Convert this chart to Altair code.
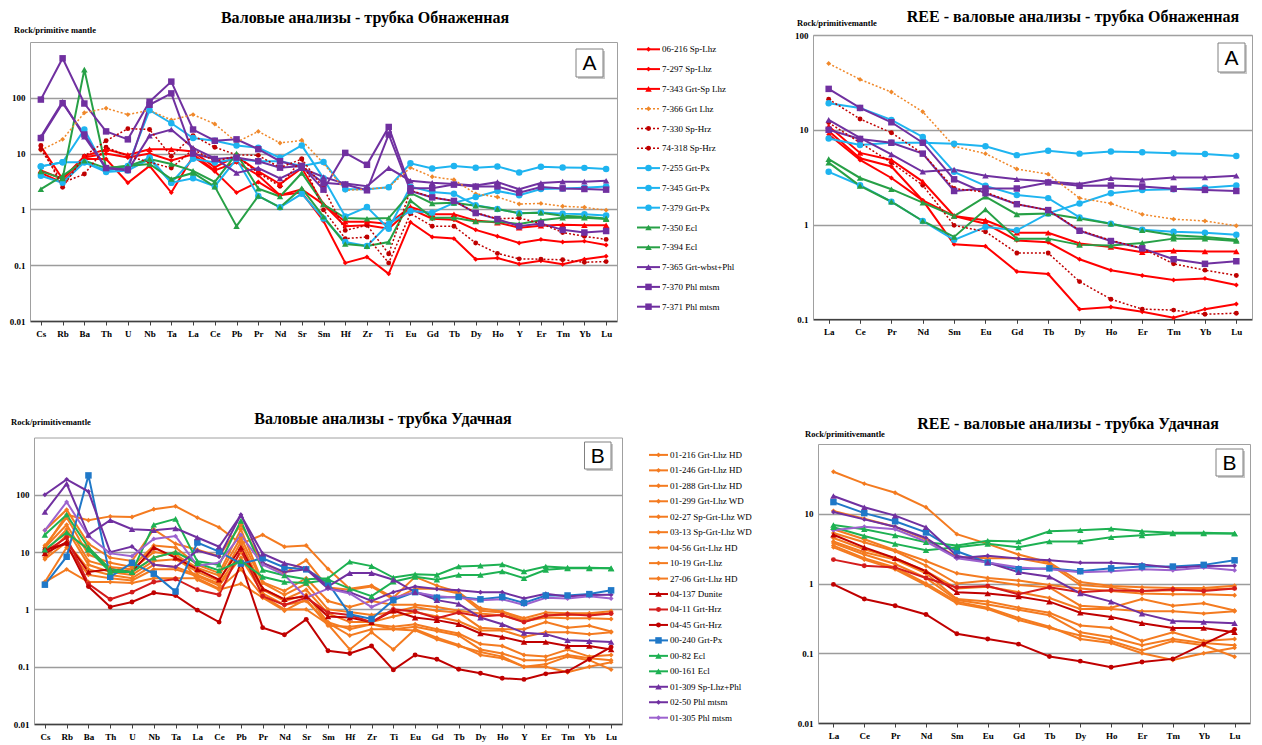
import altair as alt
import pandas as pd

# ---------------- data ----------------
ELEMENTS = ["Cs", "Rb", "Ba", "Th", "U", "Nb", "Ta", "La", "Ce", "Pb", "Pr", "Nd", "Sr", "Sm",
            "Hf", "Zr", "Ti", "Eu", "Gd", "Tb", "Dy", "Ho", "Y", "Er", "Tm", "Yb", "Lu"]
REE = ["La", "Ce", "Pr", "Nd", "Sm", "Eu", "Gd", "Tb", "Dy", "Ho", "Er", "Tm", "Yb", "Lu"]

SERIES_A = ["06-216 Sp-Lhz", "7-297 Sp-Lhz", "7-343 Grt-Sp  Lhz", "7-366 Grt Lhz", "7-330 Sp-Hrz",
            "74-318 Sp-Hrz", "7-255 Grt-Px", "7-345 Grt-Px", "7-379 Grt-Px", "7-350 Ecl", "7-394 Ecl",
            "7-365 Grt-wbst+Phl", "7-370 Phl mtsm", "7-371 Phl mtsm"]

A_06_216 = [4.5, 3.0, 8.0, 8.0, 3.0, 6.0, 2.0, 8.9, 4.8, 2.0, 3.1, 1.8, 2.0, 0.62, 0.11, 0.14, 0.07, 0.59, 0.32, 0.30, 0.128, 0.135, 0.105, 0.12, 0.104, 0.128, 0.145]
A_7_297 = [13.5, 3.5, 8.5, 10.0, 8.5, 10.0, 7.5, 9.7, 5.0, 7.0, 4.1, 1.8, 2.3, 1.23, 0.5, 0.52, 0.45, 1.02, 0.68, 0.65, 0.43, 0.33, 0.25, 0.29, 0.26, 0.27, 0.23]
A_7_343 = [5.0, 3.5, 9.0, 12.0, 9.5, 12.0, 12.0, 10.9, 5.7, 9.0, 4.8, 2.84, 5.5, 1.23, 0.6, 0.6, 0.55, 1.11, 0.82, 0.82, 0.63, 0.58, 0.47, 0.51, 0.53, 0.52, 0.52]
A_7_366 = [11.5, 18.0, 54.0, 65.0, 50.0, 60.0, 40.0, 50.0, 34.0, 16.0, 25.0, 15.5, 17.3, 6.7, 2.2, 2.3, 2.5, 5.6, 3.85, 3.4, 1.9, 1.67, 1.25, 1.28, 1.14, 1.09, 0.97]
A_7_330 = [14.0, 2.5, 9.0, 17.0, 28.0, 27.0, 9.0, 21.0, 13.0, 9.5, 9.3, 5.6, 8.0, 2.4, 0.42, 0.52, 0.16, 2.2, 1.64, 1.42, 0.87, 0.68, 0.7, 0.56, 0.385, 0.33, 0.29]
A_74_318 = [12.0, 3.0, 4.3, 13.0, 9.0, 7.0, 5.5, 11.9, 7.3, 9.0, 4.5, 2.6, 8.0, 0.98, 0.3, 0.32, 0.11, 0.84, 0.5, 0.5, 0.25, 0.163, 0.13, 0.128, 0.125, 0.113, 0.116]
A_7_255 = [5.9, 7.0, 27.0, 5.0, 6.0, 60.0, 35.0, 19.0, 17.0, 14.0, 12.7, 8.4, 14.0, 3.6, 0.75, 1.1, 0.45, 2.56, 2.05, 1.9, 1.19, 1.02, 0.85, 0.88, 0.84, 0.82, 0.78]
A_7_345 = [5.9, 7.0, 7.0, 5.0, 5.5, 8.5, 3.0, 8.1, 6.9, 8.0, 7.3, 7.3, 6.0, 7.1, 2.3, 2.3, 2.5, 6.7, 5.4, 6.0, 5.6, 5.9, 4.6, 5.8, 5.65, 5.55, 5.3]
A_7_379 = [4.0, 3.0, 7.0, 4.7, 5.0, 8.0, 3.0, 3.6, 2.6, 8.0, 1.74, 1.09, 1.9, 0.69, 0.26, 0.22, 0.55, 0.94, 0.87, 1.31, 1.67, 2.14, 1.8, 2.32, 2.36, 2.45, 2.58]
A_7_350 = [4.8, 3.6, 320.0, 5.5, 6.0, 8.0, 6.5, 4.9, 3.1, 10.0, 2.36, 1.7, 4.5, 1.23, 0.7, 0.68, 0.7, 1.97, 1.28, 1.31, 1.16, 1.02, 0.85, 0.87, 0.77, 0.74, 0.69]
A_7_394 = [2.3, 4.0, 7.5, 5.5, 6.0, 6.5, 3.5, 4.5, 2.56, 0.5, 1.74, 1.09, 2.4, 0.74, 0.24, 0.22, 0.26, 1.44, 0.71, 0.71, 0.61, 0.6, 0.55, 0.64, 0.71, 0.71, 0.67]
A_7_365 = [20.0, 85.0, 20.0, 5.5, 5.0, 21.0, 27.0, 12.7, 8.2, 4.5, 5.5, 3.6, 5.5, 3.8, 2.9, 2.6, 5.5, 3.27, 3.0, 2.85, 2.68, 3.08, 2.3, 2.96, 3.14, 3.14, 3.27]
A_7_370 = [19.0, 80.0, 22.0, 5.5, 5.2, 75.0, 120.0, 10.0, 8.0, 8.5, 7.3, 5.6, 6.0, 2.26, 10.3, 6.3, 30.0, 2.4, 2.4, 2.78, 2.56, 2.58, 2.0, 2.52, 2.38, 2.32, 2.26]
A_7_371 = [93.0, 510.0, 79.0, 25.0, 18.0, 85.0, 195.0, 27.0, 17.0, 18.0, 12.0, 7.3, 5.7, 3.0, 2.8, 2.2, 22.0, 2.14, 1.64, 1.42, 0.86, 0.67, 0.5, 0.56, 0.43, 0.385, 0.41]

VALUES_A = [A_06_216, A_7_297, A_7_343, A_7_366, A_7_330, A_74_318, A_7_255, A_7_345, A_7_379,
            A_7_350, A_7_394, A_7_365, A_7_370, A_7_371]

SERIES_B = ["01-216 Grt-Lhz  HD", "01-246 Grt-Lhz  HD", "01-288 Grt-Lhz  HD", "01-299 Grt-Lhz  WD",
            "02-27 Sp-Grt-Lhz  WD", "03-13 Sp-Grt-Lhz  WD", "04-56 Grt-Lhz  HD", "10-19 Grt-Lhz",
            "27-06 Grt-Lhz  HD", "04-137 Dunite", "04-11 Grt-Hrz", "04-45 Grt-Hrz", "00-240 Grt-Px",
            "00-82 Ecl", "00-161 Ecl", "01-309 Sp-Lhz+Phl", "02-50 Phl mtsm", "01-305 Phl mtsm"]

B_01_216 = [12, 45, 36, 42, 41, 56, 63, 40, 27, 14, 20, 12.4, 13, 5.1, 2.3, 2.6, 1.6, 3.7, 2.6, 2.0, 1.05, 0.92, 0.7, 0.88, 0.86, 0.86, 0.93]
B_01_246 = [24, 55, 14, 8, 7, 25, 14, 11, 8.5, 30, 6.5, 4.3, 7.2, 2.4, 2.2, 2.5, 1.5, 2.3, 2.3, 1.9, 0.95, 0.88, 0.65, 0.78, 0.8, 0.82, 0.85]
B_01_288 = [13, 40, 9, 6.5, 5.5, 13, 12, 6.0, 4.3, 25, 3.0, 2.1, 3.5, 1.4, 1.1, 1.4, 1.2, 1.2, 1.1, 0.95, 0.85, 0.78, 0.62, 0.72, 0.7, 0.7, 0.68]
B_01_299 = [12, 30, 7, 5.5, 5, 10, 9, 5.3, 3.9, 18, 2.9, 1.8, 2.8, 1.0, 0.9, 0.8, 0.9, 1.1, 0.95, 0.88, 0.48, 0.45, 0.45, 0.6, 0.48, 0.52, 0.41]
B_02_27 = [10, 25, 6, 4.5, 4, 7, 7.5, 4.5, 3.1, 15, 2.3, 1.5, 2.2, 0.85, 0.6, 0.6, 0.75, 0.9, 0.75, 0.62, 0.43, 0.43, 0.33, 0.4, 0.4, 0.37, 0.4]
B_03_13 = [7.5, 15, 5, 4, 3.5, 6, 5.5, 4.0, 2.8, 10, 2.2, 1.4, 1.8, 0.6, 0.45, 0.55, 0.5, 0.55, 0.45, 0.38, 0.25, 0.23, 0.16, 0.15, 0.2, 0.15, 0.16]
B_04_56 = [3, 12, 4, 3.5, 3.2, 5, 5, 3.8, 2.6, 8, 1.9, 1.2, 1.4, 0.58, 0.35, 0.45, 0.45, 0.5, 0.42, 0.35, 0.2, 0.17, 0.13, 0.13, 0.16, 0.14, 0.13]
B_10_19 = [3, 5, 3, 3, 2.9, 3.5, 3.5, 3.5, 2.3, 5, 1.7, 1.0, 1.0, 0.55, 0.2, 0.4, 0.2, 0.45, 0.32, 0.24, 0.16, 0.14, 0.1, 0.1, 0.08, 0.1, 0.12]
B_27_06 = [8, 20, 12, 5, 4.5, 8, 10, 3.3, 2.2, 2.8, 1.6, 0.95, 1.5, 0.52, 0.5, 0.55, 0.45, 0.43, 0.3, 0.23, 0.18, 0.15, 0.1, 0.11, 0.15, 0.13, 0.089]
B_04_137 = [9.5, 15, 4.5, 5, 4.5, 12, 8, 5, 3.3, 12, 2.3, 1.5, 1.7, 0.75, 0.72, 0.6, 0.95, 0.72, 0.65, 0.55, 0.38, 0.33, 0.27, 0.27, 0.23, 0.23, 0.2]
B_04_11 = [10, 18, 2.8, 1.5, 2.0, 3.0, 3.4, 2.2, 1.8, 11, 1.7, 1.2, 1.6, 0.88, 0.8, 0.6, 1.0, 0.92, 0.7, 0.88, 0.75, 0.8, 0.6, 0.78, 0.82, 0.78, 0.85]
B_04_45 = [11, 14, 2.5, 1.1, 1.35, 1.95, 1.75, 0.97, 0.6, 6.5, 0.48, 0.36, 0.67, 0.19, 0.17, 0.23, 0.088, 0.16, 0.135, 0.09, 0.077, 0.063, 0.06, 0.075, 0.083, 0.135, 0.22]
B_00_240 = [2.7, 8.3, 218, 3.7, 6.5, 4.2, 2.05, 14.7, 10.2, 6.3, 7.8, 5.4, 5.0, 2.9, 0.82, 0.68, 1.45, 2.0, 1.6, 1.65, 1.5, 1.65, 1.3, 1.75, 1.75, 1.85, 2.15]
B_00_82 = [20, 45, 12, 5, 4.5, 30, 38, 6.9, 6.0, 35, 4.9, 3.9, 3.35, 3.5, 6.8, 5.7, 3.6, 4.1, 4.0, 5.6, 5.8, 6.1, 4.6, 5.6, 5.35, 5.35, 5.2]
B_00_161 = [11, 22, 11, 4.5, 4.5, 8, 10, 6.4, 4.8, 7, 3.7, 3.0, 2.9, 3.3, 2.3, 1.7, 3.05, 3.7, 3.3, 4.0, 4.0, 4.6, 3.5, 4.9, 5.2, 5.2, 5.2]
B_01_309 = [50, 156, 20, 36, 25, 24, 26, 18, 12.4, 44, 9.4, 6.4, 5.2, 2.5, 4.3, 4.3, 3.3, 2.0, 1.45, 1.25, 0.72, 0.55, 0.39, 0.37, 0.29, 0.28, 0.27]
B_02_50 = [100, 186, 114, 10, 12.5, 6, 5.5, 10.6, 8.3, 45, 6.5, 4.5, 5.0, 2.3, 2.0, 1.4, 2.0, 2.5, 2.27, 2.15, 1.99, 1.99, 1.55, 1.88, 1.68, 1.78, 1.8]
B_01_305 = [24, 75, 19, 9.5, 8.5, 17, 19, 5.8, 6.5, 20, 6.0, 4.0, 1.6, 2.3, 1.9, 1.1, 1.6, 2.0, 1.7, 1.6, 1.45, 1.5, 1.2, 1.6, 1.55, 1.7, 1.55]

VALUES_B = [B_01_216, B_01_246, B_01_288, B_01_299, B_02_27, B_03_13, B_04_56, B_10_19, B_27_06,
            B_04_137, B_04_11, B_04_45, B_00_240, B_00_82, B_00_161, B_01_309, B_02_50, B_01_305]

# ---------------- styles ----------------
RED, ORA, DRED, CYAN, GRN, PUR = "#FF0000", "#F0882A", "#C00000", "#1EB4F0", "#27A046", "#7030A0"
ORB, BLUE, GRNB, LPUR = "#F47B20", "#1F78C8", "#1DB152", "#9C62CE"
COLORS_A = [RED, RED, RED, ORA, DRED, DRED, CYAN, CYAN, CYAN, GRN, GRN, PUR, PUR, PUR]
SHAPES_A = ["diamond", "diamond", "triangle-up", "diamond", "circle", "circle", "circle", "circle",
            "circle", "triangle-up", "triangle-up", "triangle-up", "square", "square"]
COLORS_B = [ORB] * 9 + [DRED, "#D41C1C", DRED, BLUE, GRNB, GRNB, PUR, PUR, LPUR]
SHAPES_B = ["diamond"] * 9 + ["triangle-up", "circle", "circle", "square", "triangle-up",
                              "triangle-up", "triangle-up", "diamond", "diamond"]
DOTTED = ["7-366 Grt Lhz", "7-330 Sp-Hrz", "74-318 Sp-Hrz"]
SMALL = ["06-216 Sp-Lhz", "7-297 Sp-Lhz", "7-366 Grt Lhz", "7-330 Sp-Hrz", "74-318 Sp-Hrz"] + \
        SERIES_B[:9] + ["04-11 Grt-Hrz", "04-45 Grt-Hrz", "02-50 Phl mtsm", "01-305 Phl mtsm"]

ALL = SERIES_A + SERIES_B
W, H = 1246, 737
SERIF = "Liberation Serif"


def P(v):
    return v - 8


def long_df(names, values, elements):
    rows = []
    for s, vals in zip(names, values):
        for e, v in zip(ELEMENTS, vals):
            if e in elements:
                rows.append({"series": s, "element": e, "value": v})
    return pd.DataFrame(rows)


color = alt.Color("series:N", legend=None,
                  scale=alt.Scale(domain=ALL, range=COLORS_A + COLORS_B))
shape = alt.Shape("series:N", legend=None,
                  scale=alt.Scale(domain=ALL, range=SHAPES_A + SHAPES_B))


def one_of(names):
    return alt.FieldOneOfPredicate(field="series", oneOf=names)


def panel(df, names, xr, yr, dom, yvals, elements):
    xs = alt.Scale(type="point", domain=elements, range=[P(xr[0]), P(xr[1])], padding=0.5)
    ys = alt.Scale(type="log", domain=list(dom), range=[P(yr[0]), P(yr[1])], nice=False)
    xax = alt.Axis(orient="bottom", offset=P(yr[0]) - H, title=None, labelAngle=0,
                   labelFont=SERIF, labelFontSize=9, labelFontWeight="bold", labelColor="#000",
                   labelOverlap=False, labelPadding=4, tickSize=4, tickColor="#404040",
                   domainColor="#404040", domainWidth=1.6, grid=False)
    yax = alt.Axis(orient="left", offset=-P(xr[0]), values=yvals, format=".2~f", title=None,
                   labelFont=SERIF, labelFontSize=9, labelFontWeight="bold", labelColor="#000",
                   labelPadding=5, ticks=False, domainColor="#a0a0a0", domainWidth=1,
                   grid=True, gridColor="#9c9c9c", gridWidth=1.5)
    X = alt.X("element:N", scale=xs, axis=xax)
    Y = alt.Y("value:Q", scale=ys, axis=yax)
    base = alt.Chart(df)
    dotted = [s for s in names if s in DOTTED]
    solid = [s for s in names if s not in DOTTED]
    small = [s for s in names if s in SMALL]
    big = [s for s in names if s not in SMALL]
    layers = [base.mark_line(strokeWidth=2).encode(x=X, y=Y, color=color)
              .transform_filter(one_of(solid))]
    if dotted:
        layers.append(base.mark_line(strokeWidth=1.5, strokeDash=[2, 2]).encode(x=X, y=Y, color=color)
                      .transform_filter(one_of(dotted)))
    layers.append(base.mark_point(filled=True, opacity=1, size=24).encode(x=X, y=Y, color=color, shape=shape)
                  .transform_filter(one_of(small)))
    if big:
        layers.append(base.mark_point(filled=True, opacity=1, size=42).encode(x=X, y=Y, color=color, shape=shape)
                      .transform_filter(one_of(big)))
    data_layer = alt.layer(*layers)
    fx = alt.Axis(orient="top", offset=-P(yr[1]), labels=False, ticks=False, grid=False, title=None,
                  domainColor="#a0a0a0", domainWidth=1)
    fy = alt.Axis(orient="right", offset=P(xr[1]) - W, labels=False, ticks=False, grid=False, title=None,
                  domainColor="#a0a0a0", domainWidth=1)
    frame = base.mark_point(opacity=0).encode(x=alt.X("element:N", scale=xs, axis=fx),
                                              y=alt.Y("value:Q", scale=ys, axis=fy))
    return [data_layer, frame]


def legend(names, y0, y1, x0, x1, xt):
    ldf = pd.DataFrame({"series": names})
    ys = alt.Scale(type="point", domain=names, range=[P(y0), P(y1)], padding=0)
    Y = alt.Y("series:N", scale=ys, axis=None)
    base = alt.Chart(ldf)
    dotted = [s for s in names if s in DOTTED]
    solid = [s for s in names if s not in DOTTED]
    small = [s for s in names if s in SMALL]
    big = [s for s in names if s not in SMALL]
    layers = [base.mark_rule(strokeWidth=2).encode(x=alt.value(P(x0)), x2=alt.value(P(x1)), y=Y, color=color)
              .transform_filter(one_of(solid))]
    if dotted:
        layers.append(base.mark_rule(strokeWidth=1.5, strokeDash=[2, 2])
                      .encode(x=alt.value(P(x0)), x2=alt.value(P(x1)), y=Y, color=color)
                      .transform_filter(one_of(dotted)))
    xm = P((x0 + x1) / 2)
    layers.append(base.mark_point(filled=True, opacity=1, size=24).encode(x=alt.value(xm), y=Y, color=color, shape=shape)
                  .transform_filter(one_of(small)))
    layers.append(base.mark_point(filled=True, opacity=1, size=42).encode(x=alt.value(xm), y=Y, color=color, shape=shape)
                  .transform_filter(one_of(big)))
    layers.append(base.mark_text(align="left", baseline="middle", font=SERIF, fontSize=9, color="#000")
                  .encode(x=alt.value(P(xt)), y=Y, text="series:N"))
    return alt.layer(*layers)


def label(text, x, y, size, weight="normal", align="left", font=SERIF):
    return alt.Chart(pd.DataFrame({"t": [text]})).mark_text(
        align=align, baseline="middle", font=font, fontSize=size, fontWeight=weight, color="#000"
    ).encode(x=alt.value(P(x)), y=alt.value(P(y)), text="t:N")


def box(x0, y0, x1, y1, letter):
    d = pd.DataFrame({"t": [letter]})
    shadow = alt.Chart(d).mark_rect(fill="#c8c8c8").encode(
        x=alt.value(P(x0) + 2), x2=alt.value(P(x1) + 2), y=alt.value(P(y0) + 2), y2=alt.value(P(y1) + 2))
    rect = alt.Chart(d).mark_rect(fill="white", stroke="#808080", strokeWidth=1).encode(
        x=alt.value(P(x0)), x2=alt.value(P(x1)), y=alt.value(P(y0)), y2=alt.value(P(y1)))
    txt = alt.Chart(d).mark_text(align="center", baseline="middle", font="Liberation Sans",
                                 fontSize=21, color="#000").encode(
        x=alt.value(P((x0 + x1) / 2)), y=alt.value(P((y0 + y1) / 2) + 1), text="t:N")
    return [shadow, rect, txt]


dfA = long_df(SERIES_A, VALUES_A, ELEMENTS)
dfRA = long_df(SERIES_A, VALUES_A, REE)
dfB = long_df(SERIES_B, VALUES_B, ELEMENTS)
dfRB = long_df(SERIES_B, VALUES_B, REE)

layers = []
layers += panel(dfA, SERIES_A, (30, 617), (321, 42), (0.01, 1000), [0.01, 0.1, 1, 10, 100], ELEMENTS)
layers += panel(dfRA, SERIES_A, (813, 1252), (319.3, 35), (0.1, 100), [0.1, 1, 10, 100], REE)
layers += panel(dfB, SERIES_B, (34, 622), (724, 437.5), (0.01, 1000), [0.01, 0.1, 1, 10, 100], ELEMENTS)
layers += panel(dfRB, SERIES_B, (818, 1250), (723, 444), (0.01, 100), [0.01, 0.1, 1, 10], REE)
layers.append(legend(SERIES_A, 49.3, 306.7, 637, 660, 662))
layers.append(legend(SERIES_B, 454.9, 717.7, 649, 668, 670))

layers += [
    label("Валовые анализы - трубка Обнаженная", 365, 17.5, 16, "bold", "center"),
    label("REE - валовые анализы - трубка Обнаженная", 1073, 17, 16, "bold", "center"),
    label("Валовые анализы - трубка Удачная", 383, 419, 16, "bold", "center"),
    label("REE - валовые анализы - трубка Удачная", 1068, 424, 16, "bold", "center"),
    label("Rock/primitive mantle", 14, 30, 8.5, "bold"),
    label("Rock/primitivemantle", 797, 23, 8.5, "bold"),
    label("Rock/primitivemantle", 11, 422, 8.5, "bold"),
    label("Rock/primitivemantle", 805, 434, 8.5, "bold"),
]
layers += box(576, 49, 603, 77, "A")
layers += box(1218, 43, 1245, 72, "A")
layers += box(584.5, 442, 611, 469, "B")
layers += box(1216, 449, 1243, 476, "B")

chart = alt.layer(*layers).resolve_scale(x="independent", y="independent").properties(
    width=W, height=H, padding=0, autosize=alt.AutoSizeParams(type="none")
).configure_view(stroke=None)

chart.save("out.html", embed_options={"renderer": "svg", "actions": False})
